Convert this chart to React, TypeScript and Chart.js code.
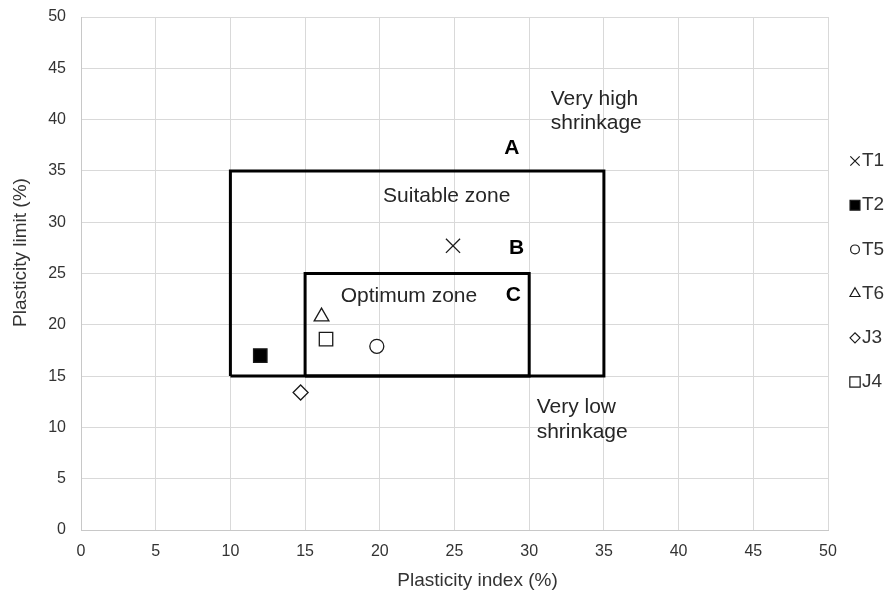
import React, { useEffect, useRef } from 'react';
import { Chart, registerables } from 'chart.js';
import { drawPoint } from 'chart.js/helpers';

Chart.register(...registerables);

// ---- data ----
const seriesNames = ['T1', 'T2', 'T5', 'T6', 'J3', 'J4'];
const plasticityIndex = [24.9, 12.0, 19.8, 16.1, 14.7, 16.4];
const plasticityLimit = [27.7, 17.0, 17.9, 20.8, 13.4, 18.6];

const xTickValues = [0, 5, 10, 15, 20, 25, 30, 35, 40, 45, 50];
const yTickValues = [0, 5, 10, 15, 20, 25, 30, 35, 40, 45, 50];

const suitableZoneX = [10, 10, 35, 35, 10];
const suitableZoneY = [15, 35, 35, 15, 15];
const optimumZoneX = [15, 15, 30, 30, 15];
const optimumZoneY = [15, 25, 25, 15, 15];

const annotationTexts = ['A', 'B', 'C', 'Suitable zone', 'Optimum zone', 'Very high', 'shrinkage', 'Very low', 'shrinkage'];
const annotationX = [28.83, 29.16, 28.94, 24.48, 21.95, 31.44, 31.44, 30.5, 30.5];
const annotationY = [37.23, 27.49, 22.9, 32.55, 22.74, 42.0, 39.67, 11.96, 9.58];

const xAxisTitle = 'Plasticity index (%)';
const yAxisTitle = 'Plasticity limit (%)';

// ---- styles ----
const FONT = '"Liberation Sans", Arial, sans-serif';
const TEXT_COLOR = '#333333';
const markerStyles = ['crossRot', 'rect', 'circle', 'triangle', 'rectRot', 'rect'];
const markerRadius = [10, 9.5, 7, 8.5, 7.5, 9.5];
const markerFill = ['rgba(0,0,0,0)', '#000000', '#ffffff', '#ffffff', '#ffffff', '#ffffff'];
const legendRadius = [6.6, 7, 4.4, 5.8, 5, 7.3];
const annotationBold = [true, true, true, false, false, false, false, false, false];
const annotationAlign = ['center', 'center', 'center', 'center', 'center', 'left', 'left', 'left', 'left'];

const overlayPlugin = {
  id: 'overlay',
  afterDatasetsDraw(chart: any) {
    const { ctx, chartArea, scales } = chart;
    ctx.save();
    // annotations
    annotationTexts.forEach((t, i) => {
      const px = scales.x.getPixelForValue(annotationX[i]);
      const py = scales.y.getPixelForValue(annotationY[i]);
      ctx.font = (annotationBold[i] ? 'bold ' : '') + '21px ' + FONT;
      ctx.fillStyle = annotationBold[i] ? '#000000' : '#262626';
      ctx.textAlign = annotationAlign[i] as CanvasTextAlign;
      ctx.textBaseline = 'middle';
      ctx.fillText(t, px, py);
    });
    // axis titles (placed off-centre as in the original)
    ctx.font = '19px ' + FONT;
    ctx.fillStyle = TEXT_COLOR;
    ctx.textAlign = 'center';
    ctx.textBaseline = 'middle';
    const cx = (chartArea.left + chartArea.right) / 2;
    const cyArea = (chartArea.top + chartArea.bottom) / 2;
    ctx.fillText(xAxisTitle, cx + 23, chartArea.bottom + 51);
    ctx.save();
    ctx.translate(21, cyArea - 21);
    ctx.rotate(-Math.PI / 2);
    ctx.fillText(yAxisTitle, 0, 0);
    ctx.restore();
    // legend
    const cy = cyArea - 2;
    seriesNames.forEach((name, i) => {
      const y = cy + (i - 2.5) * 44.2;
      const mx = chartArea.right + 27;
      ctx.lineWidth = 1.2;
      ctx.strokeStyle = '#1a1a1a';
      ctx.fillStyle = markerFill[i];
      drawPoint(ctx, { pointStyle: markerStyles[i], radius: legendRadius[i], rotation: 0, borderWidth: 1.2 } as any, mx, y);
      ctx.font = '19px ' + FONT;
      ctx.fillStyle = TEXT_COLOR;
      ctx.textAlign = 'left';
      ctx.textBaseline = 'middle';
      ctx.fillText(name, chartArea.right + 34, y);
    });
    ctx.restore();
  },
};

export default function App() {
  const ref = useRef<HTMLCanvasElement | null>(null);

  useEffect(() => {
    document.body.style.margin = '0';
    const canvas = ref.current;
    if (!canvas) return;

    const zoneDataset = (xs: number[], ys: number[]) => ({
      type: 'scatter' as const,
      data: xs.map((x, i) => ({ x, y: ys[i] })),
      showLine: true,
      borderColor: '#000000',
      borderWidth: 3,
      borderJoinStyle: 'miter' as const,
      pointRadius: 0,
      pointHoverRadius: 0,
      fill: false,
      tension: 0,
    });

    const pointDatasets = seriesNames.map((name, i) => ({
      type: 'scatter' as const,
      label: name,
      data: [{ x: plasticityIndex[i], y: plasticityLimit[i] }],
      pointStyle: markerStyles[i],
      pointRadius: markerRadius[i],
      pointHoverRadius: markerRadius[i],
      pointBackgroundColor: markerFill[i],
      pointBorderColor: '#1a1a1a',
      pointBorderWidth: 1.3,
      showLine: false,
    }));

    const chart = new Chart(canvas, {
      type: 'scatter',
      data: {
        datasets: [zoneDataset(suitableZoneX, suitableZoneY), zoneDataset(optimumZoneX, optimumZoneY), ...pointDatasets] as any,
      },
      options: {
        responsive: false,
        animation: false,
        devicePixelRatio: 1,
        layout: { padding: { top: 17, right: 59, left: 0, bottom: 0 } },
        plugins: {
          legend: { display: false },
          tooltip: { enabled: false },
        },
        scales: {
          x: {
            type: 'linear',
            min: 0,
            max: 50,
            afterBuildTicks: (s: any) => {
              s.ticks = xTickValues.map((v) => ({ value: v }));
            },
            afterFit: (s: any) => {
              s.height = 67;
              s.paddingLeft = 0;
              s.paddingRight = 0;
            },
            grid: { color: '#d9d9d9', lineWidth: 1, drawTicks: false },
            border: { color: '#c8c8c8', width: 1 },
            ticks: { color: TEXT_COLOR, font: { family: FONT, size: 16 }, padding: 12, maxRotation: 0 },
            title: { display: false },
          },
          y: {
            type: 'linear',
            min: 0,
            max: 50,
            afterBuildTicks: (s: any) => {
              s.ticks = yTickValues.map((v) => ({ value: v }));
            },
            afterFit: (s: any) => {
              s.width = 81;
              s.paddingTop = 0;
              s.paddingBottom = 0;
            },
            grid: { color: '#d9d9d9', lineWidth: 1, drawTicks: false },
            border: { color: '#c8c8c8', width: 1 },
            ticks: { color: TEXT_COLOR, font: { family: FONT, size: 16 }, padding: 15 },
            title: { display: false },
          },
        },
      },
      plugins: [overlayPlugin],
    });

    return () => chart.destroy();
  }, []);

  return <canvas ref={ref} width={887} height={597} style={{ display: 'block', width: 887, height: 597 }} />;
}
